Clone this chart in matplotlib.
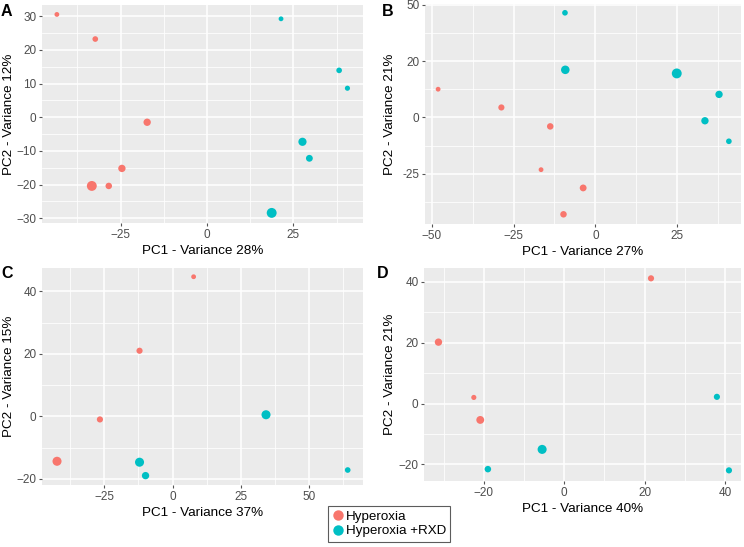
import numpy as np
import matplotlib
matplotlib.use("Agg")
import matplotlib.pyplot as plt
from matplotlib.lines import Line2D

plt.rcParams["font.family"] = ["Liberation Sans", "DejaVu Sans"]

RED = "#F8766D"
CYAN = "#00BFC4"

groups = ["Hyperoxia", "Hyperoxia +RXD"]

# panel A
a_pc1 = [-43.4, -32.3, -17.3, -24.6, -33.3, -28.4, 21.4, 38.2, 40.6, 27.6, 29.6, 18.7]
a_pc2 = [30.5, 23.2, -1.5, -15.2, -20.4, -20.4, 29.2, 13.9, 8.6, -7.3, -12.2, -28.4]
a_size = [1, 1.5, 2.5, 2.5, 4, 2, 1, 1.5, 1.2, 3, 2.2, 4]
a_group = [0, 0, 0, 0, 0, 0, 1, 1, 1, 1, 1, 1]

# panel B (y tick labels as printed: 50, 20, 0, -25 on equal spacing)
b_pc1 = [-48.0, -28.7, -13.8, -16.6, -3.75, -9.75, -9.3, -9.2, 24.8, 37.7, 33.4, 40.7]
b_pc2 = [12.5, 4.4, -4.0, -23.2, -31.3, -43.0, 46.4, 21.1, 19.5, 10.2, -1.5, -10.6]
b_size = [1, 1.8, 2, 1, 2.2, 2, 1.5, 3.2, 4, 2.5, 2.5, 1.5]
b_group = [0, 0, 0, 0, 0, 0, 1, 1, 1, 1, 1, 1]

# panel C
c_pc1 = [7.7, -12.1, -26.6, -42.3, 34.2, -12.1, -9.9, 64.1]
c_pc2 = [44.7, 21.0, -1.0, -14.4, 0.5, -14.7, -19.0, -17.2]
c_size = [1, 1.8, 1.8, 3.5, 3.5, 3.5, 2.5, 1.5]
c_group = [0, 0, 0, 0, 1, 1, 1, 1]

# panel D
d_pc1 = [21.6, -31.3, -22.5, -20.9, -5.5, -19.0, 38.0, 41.0]
d_pc2 = [41.2, 20.2, 2.0, -5.4, -15.1, -21.6, 2.2, -22.0]
d_size = [1.8, 2.5, 1.2, 2.8, 3.5, 2, 1.8, 1.8]
d_group = [0, 0, 0, 0, 1, 1, 1, 1]

x_labels = ["PC1 - Variance 28%", "PC1 - Variance 27%", "PC1 - Variance 37%", "PC1 - Variance 40%"]
y_labels = ["PC2 - Variance 12%", "PC2 - Variance 21%", "PC2 - Variance 15%", "PC2 - Variance 21%"]


def size_scale(v):
    d = 4.8 + 1.7 * (np.asarray(v) - 1)  # diameter in px
    return (d * 0.72) ** 2


def style_ax(ax, xmaj, xmin, ymaj, ymin, xlim, ylim, ytl=None):
    ax.set_facecolor("#EBEBEB")
    for s in ax.spines.values():
        s.set_visible(False)
    ax.set_xlim(xlim)
    ax.set_ylim(ylim)
    ax.set_xticks(xmaj)
    ax.set_xticks(xmin, minor=True)
    ax.set_yticks(ymaj)
    ax.set_yticks(ymin, minor=True)
    if ytl is not None:
        ax.set_yticklabels(ytl)
    ax.grid(True, which="major", color="white", lw=1.1)
    ax.grid(True, which="minor", color="white", lw=0.55)
    ax.set_axisbelow(True)
    ax.tick_params(which="major", length=2.5, color="#555555", labelsize=8.5,
                   labelcolor="#4D4D4D", pad=1.5)
    ax.tick_params(which="minor", length=0)


def scatter(ax, x, y, size, group):
    cols = [RED if g == 0 else CYAN for g in group]
    ax.scatter(x, y, s=size_scale(size), c=cols, linewidths=0, zorder=3)


fig = plt.figure(figsize=(7.44, 5.47), dpi=100)
W, H = 744, 547


def add_axes(l, t, r, b):
    return fig.add_axes([l / W, 1 - b / H, (r - l) / W, (b - t) / H])


axA = add_axes(42, 5, 363, 223)
axB = add_axes(425, 4, 741, 224)
axC = add_axes(42, 268, 363, 485)
axD = add_axes(424, 268, 741, 481)

scatter(axA, a_pc1, a_pc2, a_size, a_group)
style_ax(axA, [-25, 0, 25], [-37.5, -12.5, 12.5, 37.5],
         [-30, -20, -10, 0, 10, 20, 30], [-25, -15, -5, 5, 15, 25],
         (-47.7, 45.1), (-31.4, 33.3))

scatter(axB, b_pc1, b_pc2, b_size, b_group)
style_ax(axB, [-50, -25, 0, 25], [-37.5, -12.5, 12.5, 37.5],
         [50, 25, 0, -25], [37.5, 12.5, -12.5, -37.5],
         (-52, 44.4), (-47.3, 50.3), ytl=["50", "20", "0", "-25"])

scatter(axC, c_pc1, c_pc2, c_size, c_group)
style_ax(axC, [-25, 0, 25, 50], [-37.5, -12.5, 12.5, 37.5, 62.5],
         [-20, 0, 20, 40], [-10, 10, 30],
         (-47.8, 69.7), (-22, 47.5))

scatter(axD, d_pc1, d_pc2, d_size, d_group)
style_ax(axD, [-20, 0, 20, 40], [-30, -10, 10, 30],
         [-20, 0, 20, 40], [-10, 10, 30],
         (-34.9, 44), (-25.5, 44.6))

# right edge of each y-axis title, in figure pixels
ylab_x = [15, 396, 15, 396]
for ax, xl, yl, lx in zip([axA, axB, axC, axD], x_labels, y_labels, ylab_x):
    ax.set_xlabel(xl, fontsize=9.7, labelpad=3)
    ax.set_ylabel(yl, fontsize=9.7)
    bb = ax.get_position()
    ax.yaxis.set_label_coords((lx / W - bb.x0) / bb.width, 0.5)

for lab, (x, y) in zip("ABCD", [(1, 12), (382, 12), (1, 273), (377, 273)]):
    fig.text(x / W, 1 - y / H, lab, fontsize=11.5, fontweight="bold", va="center", ha="left")

handles = [Line2D([], [], marker="o", ls="", markersize=7.5, markerfacecolor=c,
                  markeredgewidth=0, label=g) for c, g in zip([RED, CYAN], groups)]
leg = fig.legend(handles=handles, loc="center", bbox_to_anchor=(389 / W, 1 - 524 / H),
                 fontsize=9.6, frameon=True, fancybox=False, handletextpad=0.2,
                 handlelength=0.8, borderpad=0.35, labelspacing=0.15, borderaxespad=0)
leg.get_frame().set_edgecolor("#333333")
leg.get_frame().set_linewidth(0.8)

fig.savefig("out.png", dpi=100)
